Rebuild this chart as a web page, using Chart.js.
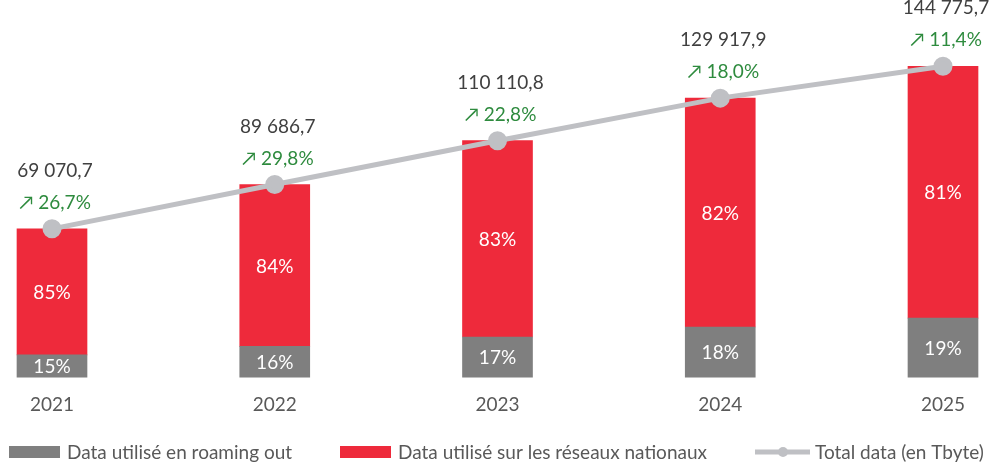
<!DOCTYPE html>
<html>
<head>
<meta charset="utf-8">
<script src="https://cdn.jsdelivr.net/npm/chart.js@4"></script>
<style>
  html, body { margin: 0; padding: 0; background: #fff; }
  #wrap { width: 995px; height: 464px; }
</style>
</head>
<body>
<div id="wrap"><canvas id="chart"></canvas></div>
<script>
// values
const years = ['2021', '2022', '2023', '2024', '2025'];
const totalData = [69070.7, 89686.7, 110110.8, 129917.9, 144775.7];
const roamingPct = [15, 16, 17, 18, 19];
const nationalPct = [85, 84, 83, 82, 81];
const growthPct = [26.7, 29.8, 22.8, 18.0, 11.4];

const roamingData = totalData.map((t, i) => t * roamingPct[i] / 100);
const nationalData = totalData.map((t, i) => t * nationalPct[i] / 100);

const FONT = 'Lato, "Open Sans", sans-serif';
const GRAY = '#7f7f7f';
const RED = '#ee2a3b';
const LINE = '#bfc0c4';

const fmt = v => v.toFixed(1).replace('.', ',').replace(/\B(?=(\d{3})+(?!\d))/g, ' ');

// labels: percents in bars, totals and growth above points, plus legend
const labelPlugin = {
  id: 'labels',
  afterDatasetsDraw(chart) {
    const ctx = chart.ctx;
    ctx.save();
    ctx.textAlign = 'center';
    ctx.textBaseline = 'middle';
    ctx.font = '19px ' + FONT;
    ctx.fillStyle = '#ffffff';
    [[0, roamingPct], [1, nationalPct]].forEach(([di, pcts]) => {
      chart.getDatasetMeta(di).data.forEach((bar, i) => {
        ctx.fillText(pcts[i] + '%', bar.x, (bar.y + bar.base) / 2 + 1);
      });
    });
    chart.getDatasetMeta(2).data.forEach((pt, i) => {
      ctx.fillStyle = '#404040';
      ctx.fillText(fmt(totalData[i]), pt.x + 3, pt.y - 58);
      ctx.fillStyle = '#2e8b3e';
      ctx.fillText('\u2197 ' + growthPct[i].toFixed(1).replace('.', ',') + '%', pt.x + 3, pt.y - 26);
    });

    // legend
    const ly = 452;
    ctx.textAlign = 'left';
    ctx.fillStyle = GRAY;
    ctx.fillRect(9, ly - 6, 51, 12);
    ctx.fillStyle = RED;
    ctx.fillRect(340, ly - 6, 51, 12);
    ctx.strokeStyle = LINE;
    ctx.lineWidth = 5;
    ctx.beginPath();
    ctx.moveTo(755, ly);
    ctx.lineTo(810, ly);
    ctx.stroke();
    ctx.fillStyle = LINE;
    ctx.beginPath();
    ctx.arc(783, ly, 5, 0, Math.PI * 2);
    ctx.fill();
    ctx.fillStyle = '#595959';
    ctx.fillText('Data utilisé en roaming out', 67, ly + 1);
    ctx.fillText('Data utilisé sur les réseaux nationaux', 398, ly + 1);
    ctx.fillText('Total data (en Tbyte)', 815, ly + 1);
    ctx.restore();
  }
};

const ctx = document.getElementById('chart').getContext('2d');
new Chart(ctx, {
  data: {
    labels: years,
    datasets: [
      {
        type: 'bar',
        label: 'Data utilisé en roaming out',
        data: roamingData,
        backgroundColor: GRAY,
        stack: 'bars',
        barThickness: 70,
        clip: false,
        order: 1
      },
      {
        type: 'bar',
        label: 'Data utilisé sur les réseaux nationaux',
        data: nationalData,
        backgroundColor: RED,
        stack: 'bars',
        barThickness: 70,
        clip: false,
        order: 1
      },
      {
        type: 'line',
        label: 'Total data (en Tbyte)',
        data: totalData,
        stack: 'total',
        borderColor: LINE,
        backgroundColor: LINE,
        borderWidth: 5,
        pointRadius: 7,
        pointHoverRadius: 7,
        tension: 0,
        clip: false,
        order: 0
      }
    ]
  },
  options: {
    responsive: true,
    maintainAspectRatio: false,
    animation: false,
    layout: { padding: { left: 52, right: 52, top: 55, bottom: 40 } },
    plugins: {
      legend: { display: false },
      tooltip: { enabled: false }
    },
    scales: {
      x: {
        stacked: true,
        offset: false,
        grid: { display: false },
        border: { display: false },
        ticks: { color: '#595959', font: { family: FONT, size: 19 }, padding: 8 }
      },
      y: {
        stacked: true,
        display: false,
        min: 0,
        max: 150000
      }
    }
  },
  plugins: [labelPlugin]
});
</script>
</body>
</html>
